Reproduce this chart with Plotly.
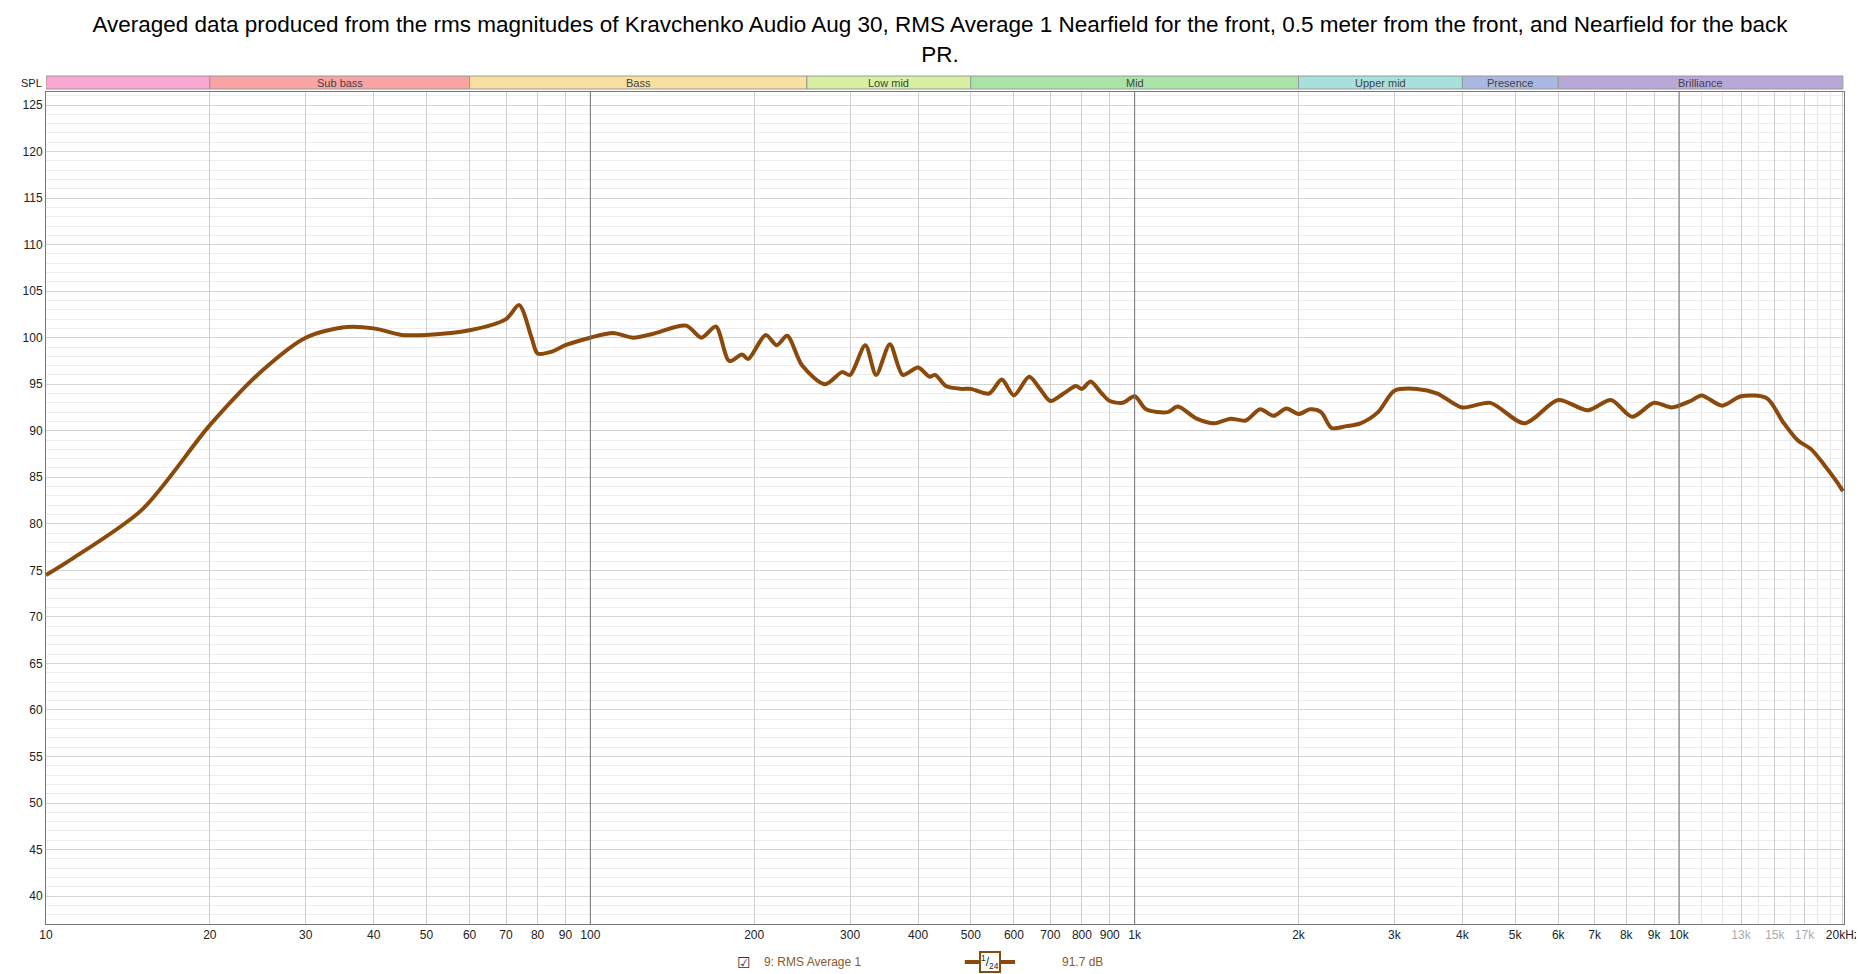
import math
import plotly.graph_objects as go

freq = [10, 11, 15, 20, 25, 30, 35, 40, 45, 50, 60, 70, 74, 78, 80, 85, 90, 100, 110, 120, 130, 150, 160, 170, 180, 190, 195,
        210, 220, 230, 245, 270, 290, 300, 320, 335, 355, 375, 400, 420, 430, 450, 480, 500, 540, 570, 600, 640, 670, 700,
        740, 780, 800, 830, 870, 900, 950, 1000, 1050, 1150, 1200, 1300, 1400, 1500, 1600, 1700, 1800, 1900, 2000, 2100,
        2200, 2300, 2450, 2600, 2800, 3000, 3300, 3600, 4000, 4500, 5200, 6000, 6800, 7500, 8200, 9000, 9700, 10500, 11000,
        12000, 13000, 14500, 15500, 16500, 17500, 18500, 19500, 20000]
spl = [74.5, 76, 81.5, 90.6, 96.5, 100, 101.1, 101, 100.3, 100.3, 100.8, 102, 103.5, 100, 98.3, 98.5, 99.2, 100, 100.5,
       100, 100.4, 101.3, 100, 101.2, 97.5, 98.2, 97.7, 100.3, 99.2, 100.2, 97, 95, 96.3, 96, 99.2, 96, 99.3, 96, 96.8,
       95.8, 96, 94.8, 94.5, 94.5, 94, 95.5, 93.8, 95.8, 94.5, 93.2, 94, 94.8, 94.5, 95.3, 94, 93.2, 93, 93.7, 92.3, 92,
       92.6, 91.3, 90.8, 91.3, 91.1, 92.3, 91.6, 92.4, 91.8, 92.3, 92, 90.3, 90.5, 90.8, 92, 94.3, 94.5, 94, 92.5, 93,
       90.8, 93.3, 92.2, 93.3, 91.5, 93, 92.5, 93.2, 93.8, 92.7, 93.7, 93.5, 91, 89, 88, 86.3, 84.5, 83.5]

x_ticks = [10, 20, 30, 40, 50, 60, 70, 80, 90, 100, 200, 300, 400, 500, 600, 700, 800, 900, 1000,
           2000, 3000, 4000, 5000, 6000, 7000, 8000, 9000, 10000, 13000, 15000, 17000, 20000]
x_labels = ["10", "20", "30", "40", "50", "60", "70", "80", "90", "100", "200", "300", "400", "500", "600", "700",
            "800", "900", "1k", "2k", "3k", "4k", "5k", "6k", "7k", "8k", "9k", "10k",
            "<span style='color:#aaa'>13k</span>", "<span style='color:#aaa'>15k</span>",
            "<span style='color:#aaa'>17k</span>", "20kHz"]
x_minor = [11000, 12000, 14000, 16000, 18000, 19000]
y_ticks = list(range(40, 126, 5))

bands = [("", 10, 20, "#f9a8d4"), ("Sub bass", 20, 60, "#f9a3a3"), ("Bass", 60, 250, "#f8e0a0"),
         ("Low mid", 250, 500, "#d8eea0"), ("Mid", 500, 2000, "#a8e4a8"), ("Upper mid", 2000, 4000, "#a8e0dc"),
         ("Presence", 4000, 6000, "#a8b8e0"), ("Brilliance", 6000, 20000, "#b8a8d8")]

W, H = 1864, 974
ml, mr, mt, mb = 38, 22, 84, 58
ph = H - mt - mb

fig = go.Figure()
fig.add_trace(go.Scatter(x=freq, y=spl, mode="lines", line=dict(color="#8b4a0c", width=4, shape="spline", smoothing=0.8),
                         hoverinfo="x+y", showlegend=False))

shapes = []
annotations = []
for name, f0, f1, col in bands:
    shapes.append(dict(type="rect", xref="x", yref="paper", x0=f0, x1=f1, y0=1 + 3 / ph, y1=1 + 16 / ph,
                       fillcolor=col, line=dict(color="#999", width=1)))
    if name:
        annotations.append(dict(x=math.log10(f0 * f1) / 2, y=1 + 9.5 / ph, xref="x", yref="paper", text=name,
                                showarrow=False, yanchor="middle", font=dict(size=11, color="#444")))
annotations.append(dict(x=0, y=1 + 9.5 / ph, xref="paper", yref="paper", xanchor="right", yanchor="middle",
                        text="SPL ", showarrow=False, font=dict(size=11, color="#222")))
for f in [100, 1000, 10000]:
    shapes.append(dict(type="line", xref="x", yref="paper", x0=f, x1=f, y0=0, y1=1, line=dict(color="#777", width=1)))

# legend row under the axis
leg_y = -38 / ph
annotations += [
    dict(x=0.388, y=leg_y, text="☑", font=dict(size=15, color="#333")),
    dict(x=0.398, y=leg_y, xanchor="left", text="9: RMS Average 1", font=dict(size=12, color="#8b5a2b")),
    dict(x=0.525, y=leg_y, text="<sup>1</sup>/<sub>24</sub>", font=dict(size=12, color="#222"),
         bordercolor="#8b4a0c", borderwidth=2, bgcolor="white", borderpad=0),
    dict(x=0.564, y=leg_y, xanchor="left", text="91.7 dB", font=dict(size=12, color="#8b5a2b")),
]
for a in annotations[-4:]:
    a.update(xref="paper", yref="paper", showarrow=False, yanchor="middle")
shapes.append(dict(type="line", xref="paper", yref="paper", x0=0.511, x1=0.539, y0=leg_y, y1=leg_y,
                   line=dict(color="#8b4a0c", width=4), layer="below"))

fig.update_layout(
    width=W, height=H, plot_bgcolor="white", paper_bgcolor="white",
    margin=dict(l=ml, r=mr, t=mt, b=mb),
    font=dict(family="Liberation Sans, Arial, sans-serif", size=12, color="#222"),
    title=dict(text="Averaged data produced from the rms magnitudes of Kravchenko Audio Aug 30, RMS Average 1 Nearfield for the front, 0.5 meter from the front, and Nearfield for the back<br>PR.",
               x=0.5, xanchor="center", y=0.975, yanchor="top", font=dict(size=22.5, color="#000")),
    xaxis=dict(type="log", range=[1, 4.3031], tickvals=x_ticks, ticktext=x_labels, showgrid=True, gridcolor="#cfcfcf",
               gridwidth=1, ticks="", showline=True, linecolor="#777", mirror=True, zeroline=False,
               tickfont=dict(size=12, color="#222"),
               minor=dict(tickvals=x_minor, showgrid=True, gridcolor="#e6e6e6", ticks="")),
    yaxis=dict(range=[37.0, 126.4], tickvals=y_ticks, showgrid=True, gridcolor="#d4d4d4", ticks="",
               showline=True, linecolor="#777", mirror=True, zeroline=False, tickfont=dict(size=12, color="#222"),
               minor=dict(dtick=1, showgrid=True, gridcolor="#ededed")),
    shapes=shapes, annotations=annotations,
)

fig.write_html("out.html")
